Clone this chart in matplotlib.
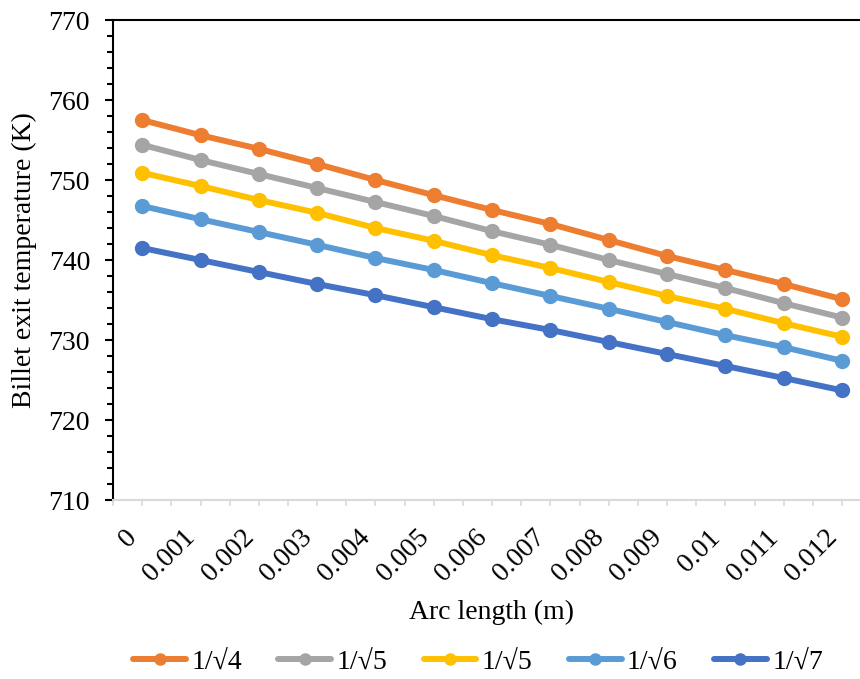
import matplotlib.pyplot as plt
import numpy as np
from matplotlib.ticker import MultipleLocator, FixedLocator

plt.rcParams['font.family'] = ['Liberation Serif', 'DejaVu Serif']

# arc length categories (m)
arc_labels = ['0', '0.001', '0.002', '0.003', '0.004', '0.005', '0.006',
              '0.007', '0.008', '0.009', '0.01', '0.011', '0.012']

# billet exit temperature (K) for each ratio
t_sqrt4 = [757.5, 755.6, 753.9, 752.0, 750.0, 748.1, 746.25, 744.5, 742.5, 740.5, 738.75, 737.0, 735.1]
t_sqrt5a = [754.4, 752.5, 750.75, 749.0, 747.25, 745.5, 743.6, 741.9, 740.0, 738.25, 736.5, 734.6, 732.8]
t_sqrt5b = [750.9, 749.25, 747.5, 745.9, 744.0, 742.4, 740.6, 739.0, 737.25, 735.5, 733.9, 732.1, 730.4]
t_sqrt6 = [746.75, 745.1, 743.5, 741.9, 740.25, 738.75, 737.1, 735.5, 733.9, 732.25, 730.6, 729.1, 727.4]
t_sqrt7 = [741.5, 740.0, 738.5, 737.0, 735.6, 734.1, 732.6, 731.25, 729.75, 728.25, 726.75, 725.25, 723.7]

series = [
    (t_sqrt4, '1/√4', '#ED7D31'),
    (t_sqrt5a, '1/√5', '#A5A5A5'),
    (t_sqrt5b, '1/√5', '#FFC000'),
    (t_sqrt6, '1/√6', '#5B9BD5'),
    (t_sqrt7, '1/√7', '#4472C4'),
]

fig = plt.figure(figsize=(8.6, 6.79), dpi=100)
ax = fig.add_axes([0.1314, 0.2636, 0.8686, 0.7069])

x = np.arange(len(arc_labels))
for vals, lab, col in series:
    ax.plot(x, vals, color=col, linewidth=4.3, marker='o', markersize=10,
            label=lab, solid_capstyle='round')

ax.set_ylim(710, 770)
ax.set_xlim(-0.5, 12.306)
ax.yaxis.set_major_locator(MultipleLocator(10))
ax.yaxis.set_minor_locator(MultipleLocator(2))
ax.tick_params(axis='y', which='major', length=5.5, width=1.5, color='black',
               labelsize=20, pad=11)
ax.tick_params(axis='y', which='minor', length=4.5, width=1.5, color='black')

# gray ticks on the category boundaries and centres, labels on centres
bounds = np.arange(-0.5, 13, 1)
ax.xaxis.set_major_locator(FixedLocator(bounds))
ax.set_xticks(x, arc_labels, minor=True)
ax.set_xticklabels([''] * len(bounds))
ax.tick_params(axis='x', which='both', length=4, width=1.2, color='#D9D9D9')
ax.tick_params(axis='x', which='minor', labelsize=20, pad=14)
for lbl in ax.get_xticklabels(minor=True):
    lbl.set_rotation(45)
    lbl.set_ha('right')
    lbl.set_va('top')

ax.spines['right'].set_visible(False)
ax.spines['left'].set_linewidth(1.5)
ax.spines['top'].set_linewidth(1.5)
ax.spines['bottom'].set_color('#D9D9D9')
ax.spines['bottom'].set_linewidth(1.5)

ax.set_ylabel('Billet exit temperature (K)', fontsize=20, labelpad=8)
fig.text(0.572, 0.0987, 'Arc length (m)', fontsize=20, ha='center', va='center')

leg = fig.legend(loc='center', bbox_to_anchor=(0.556, 0.025), ncol=5,
                 frameon=False, fontsize=20, handlelength=1.9,
                 columnspacing=1.3, handletextpad=0.2)
for h in leg.legend_handles:
    h.set_markersize(8)

plt.savefig('out.png', dpi=100)
plt.close()
